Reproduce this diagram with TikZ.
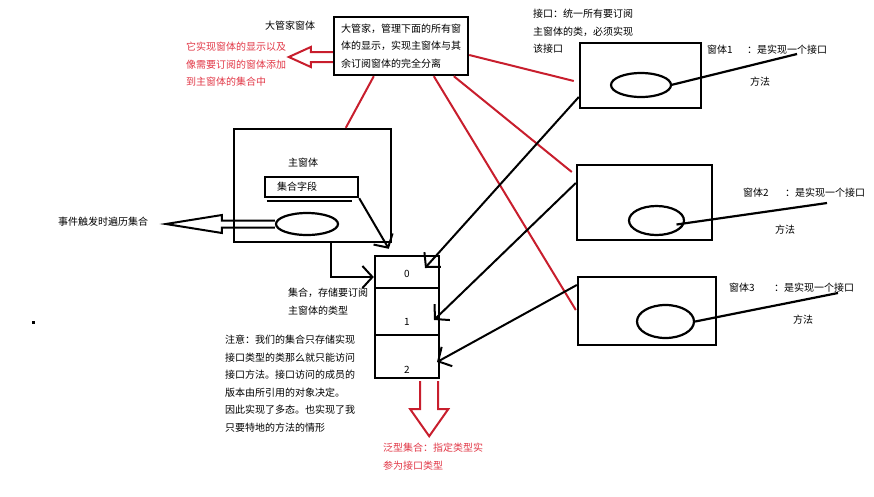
\documentclass[tikz,border=0pt]{standalone}
\usepackage{fontspec}
\setmainfont{Noto Sans CJK SC}
\usetikzlibrary{calc,shapes.geometric,arrows.meta}

\definecolor{penred}{RGB}{200,30,45}
\definecolor{inkred}{RGB}{225,55,70}

\tikzset{
  box/.style={draw,line width=2.4pt,inner sep=0pt},
  oval/.style={ellipse,draw,line width=2.2pt,inner sep=0pt},
  redline/.style={draw=penred,line width=2pt},
  pointer/.style={line width=2pt,-{Straight Barb[length=10pt,width=22pt,line width=2pt]}},
  txt/.style={anchor=west,inner sep=0pt,align=left,font=\fontsize{10}{17.5}\selectfont},
  redtxt/.style={txt,text=inkred},
  hollow/.style={line width=2pt,line join=miter},
}

\begin{document}
\begin{tikzpicture}[x=1pt,y=-1pt]
\useasboundingbox (0,0) rectangle (874,496);

\node[box,minimum width=134pt,minimum height=58pt,text width=120pt,inner xsep=7pt,
  align=left,font=\fontsize{10}{17.5}\selectfont] (boss) at (401,46)
  {大管家，管理下面的所有窗\\体的显示，实现主窗体与其\\余订阅窗体的完全分离};
\node[txt] (bosslabel) at (265,26) {大管家窗体};
\node[redtxt] (bossnote) at (186,64.5) {它实现窗体的显示以及\\像需要订阅的窗体添加\\到主窗体的集合中};
\node[txt] (ifnote) at (533,31.5) {接口：统一所有要订阅\\主窗体的类，必须实现\\该接口};

\node[box,minimum width=157pt,minimum height=113pt] (main) at (312.5,185.5) {};
\node[txt] (mainlabel) at (288,163) {主窗体};
\node[box,minimum width=93pt,minimum height=20pt,text width=69pt,inner xsep=12pt,
  align=left,font=\fontsize{10}{12}\selectfont] (field) at (311.5,187) {集合字段};
\node[oval,minimum width=62pt,minimum height=22pt] (mo) at (307,224) {};
\node[txt] (event) at (58,222) {事件触发时遍历集合};

\node[box,minimum width=64pt,minimum height=32pt] (c0) at (407,272) {};
\node[box,minimum width=64pt,minimum height=47pt] (c1) at (407,311.5) {};
\node[box,minimum width=64pt,minimum height=43pt] (c2) at (407,356.5) {};
\node[txt,anchor=center] (n0) at ([yshift=-2pt]c0.center) {0};
\node[txt,anchor=center] (n1) at ([yshift=-10.5pt]c1.center) {1};
\node[txt,anchor=center] (n2) at ([yshift=-13.5pt]c2.center) {2};
\node[txt] (clabel) at (288,301.5) {集合，存储要订阅\\主窗体的类型};
\node[txt] (note) at (225,383.5) {注意：我们的集合只存储实现\\接口类型的类那么就只能访问\\接口方法。接口访问的成员的\\版本由所引用的对象决定。\\因此实现了多态。也实现了我\\只要特地的方法的情形};
\node[redtxt] (generic) at (383,456.5) {泛型集合：指定类型实\\参为接口类型};

\node[box,minimum width=121pt,minimum height=65pt] (win1) at (640.5,75.5) {};
\node[oval,minimum width=60pt,minimum height=24pt] (o1) at (641,85) {};
\node[box,minimum width=135pt,minimum height=75pt] (win2) at (644.5,202.5) {};
\node[oval,minimum width=55pt,minimum height=29pt] (o2) at (656.5,220.5) {};
\node[box,minimum width=138pt,minimum height=68pt] (win3) at (647,311) {};
\node[oval,minimum width=57pt,minimum height=33pt] (o3) at (665.5,321.5) {};

\node[txt] (w1name) at (707,50) {窗体1};
\node[txt] (w1desc) at (747,50) {：是实现一个接口};
\node[txt] (w1meth) at (750,82) {方法};
\node[txt] (w2name) at (743,193) {窗体2};
\node[txt] (w2desc) at (785,193) {：是实现一个接口};
\node[txt] (w2meth) at (775,230) {方法};
\node[txt] (w3name) at (729,288) {窗体3};
\node[txt] (w3desc) at (774,288) {：是实现一个接口};
\node[txt] (w3meth) at (793,320) {方法};

\coordinate (m1) at (797,54);
\coordinate (m2) at (827,203);
\coordinate (m3) at (838,293);
\draw[line width=2.2pt] ([xshift=-1pt]o1.east) -- (m1);
\draw[line width=2.2pt] ([xshift=20pt,yshift=-4pt]o2.center) -- (m2);
\draw[line width=2.2pt] (o3.east) -- (m3);

\draw[redline] ([xshift=41pt]boss.south west) -- ([xshift=113pt]main.north west);
\draw[redline] ([yshift=-9pt]boss.east) -- ([xshift=-5pt,yshift=-5.5pt]win1.west);
\draw[redline] ([xshift=121pt]boss.south west) -- ([xshift=-4pt,yshift=30.5pt]win2.west);
\draw[redline] ([xshift=101pt]boss.south west) -- ([xshift=-1pt,yshift=1pt]win3.west);

\draw[pointer] ([yshift=-21.5pt]win1.west) -- ([xshift=18pt,yshift=4pt]c0.center);
\draw[pointer] ([yshift=19.5pt]win2.west) -- ([xshift=27pt,yshift=-8.5pt]c1.center);
\draw[pointer] ([yshift=26pt]win3.west) -- ([xshift=30pt,yshift=-5.5pt]c2.center);
\draw[pointer] (field.south east) -- ([xshift=15pt,yshift=6pt]c0.north west);
\draw[pointer] ([xshift=18.5pt]main.south) |- ([yshift=-5pt]c0.west);

\draw[line width=2pt] ([xshift=3pt,yshift=-3pt]field.south west) -- ([xshift=-7pt,yshift=-3pt]field.south east);

\draw[hollow] ([yshift=3.5pt]mo.west) -- ++(-53,0) -- ++(0,-5.5) -- ++(-56,9)
  -- ++(56,9) -- ++(0,-5.5) -- ++(53,0);
\draw[hollow,draw=penred] ([yshift=-6pt]boss.west) -- ++(-22,0) -- ++(0,-5) -- ++(-22,10)
  -- ++(22,10) -- ++(0,-5) -- ++(22,0);
\draw[hollow,draw=penred] ([xshift=-20pt,yshift=-2pt]c2.south east) -- ++(0,28) -- ++(-10,0)
  -- ++(19,27) -- ++(19,-27) -- ++(-10,0) -- ++(0,-28);

\fill (32,321) rectangle (35,324);
\end{tikzpicture}
\end{document}
